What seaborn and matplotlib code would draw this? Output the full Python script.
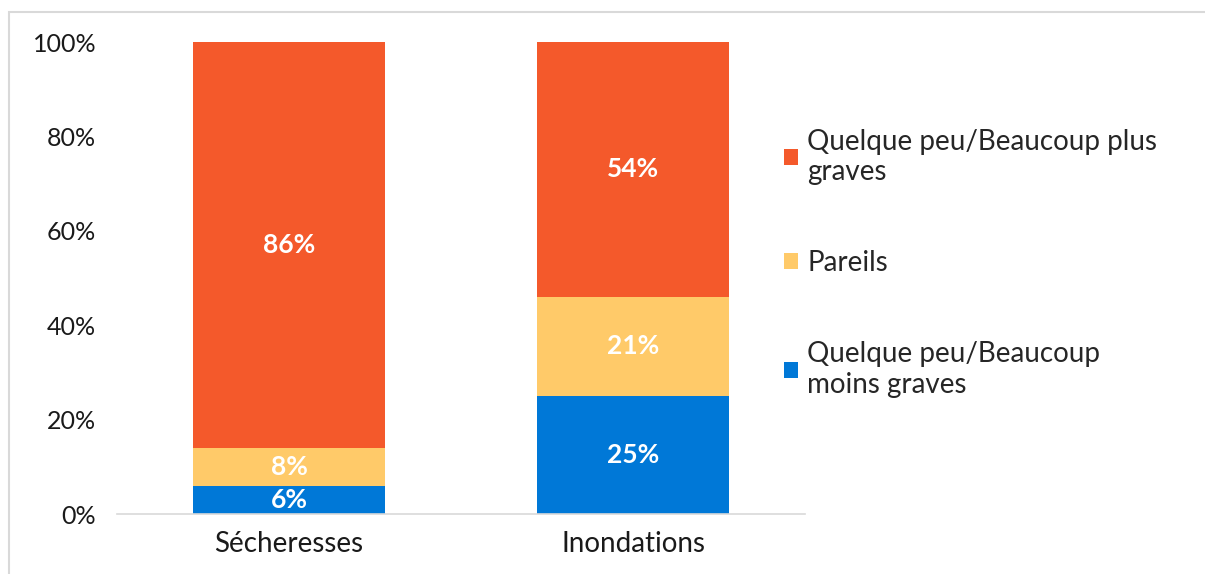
import matplotlib
matplotlib.use("Agg")
import matplotlib.pyplot as plt
import matplotlib.patches as mpatches
from matplotlib.ticker import PercentFormatter
import seaborn as sns
import numpy as np

# Data
categories = ["Sécheresses", "Inondations"]
moins_graves = [6, 25]
pareils = [8, 21]
plus_graves = [86, 54]

series_labels = ["Quelque peu/Beaucoup\nmoins graves", "Pareils",
                 "Quelque peu/Beaucoup plus\ngraves"]
colors = ["#0078D7", "#FFCA69", "#F4592B"]

sns.set_theme(style="white")
plt.rcParams["font.family"] = ["Lato", "DejaVu Sans"]

fig = plt.figure(figsize=(12.05, 5.74), dpi=100)
ax = fig.add_axes([0.0971, 0.1045, 0.571, 0.8223])

bottom = np.zeros(len(categories))
for vals, col, lab in zip([moins_graves, pareils, plus_graves], colors, series_labels):
    vals = np.array(vals, dtype=float)
    sns.barplot(x=categories, y=vals, bottom=bottom, color=col, width=0.56,
                saturation=1, ax=ax, label=lab, linewidth=0)
    cont = ax.containers[-1]
    ax.bar_label(cont, labels=[f"{v:.0f}%" for v in vals], label_type="center",
                 color="white", fontsize=19, fontweight="bold")
    bottom += vals

ax.set_ylim(0, 100)
ax.set_xlim(-0.5, 1.5)
ax.set_yticks(range(0, 101, 20))
ax.yaxis.set_major_formatter(PercentFormatter(decimals=0))
ax.tick_params(axis="y", labelsize=18, length=0, colors="#1a1a1a", pad=15)
ax.tick_params(axis="x", labelsize=20, length=0, colors="#1a1a1a", pad=12)
for s in ["top", "right", "left"]:
    ax.spines[s].set_visible(False)
ax.spines["bottom"].set_color("#d9d9d9")
ax.spines["bottom"].set_linewidth(1.2)
ax.set_xlabel("")
ax.set_ylabel("")

handles, labels = ax.get_legend_handles_labels()
leg = ax.legend(handles[::-1], labels[::-1], loc="upper left",
                bbox_to_anchor=(0.953, 0.84), frameon=False, fontsize=20,
                handlelength=0.5, handleheight=0.5, handletextpad=0.35,
                labelspacing=2.35, borderaxespad=0)

fig.patches.append(mpatches.Rectangle((0.0075, -0.02), 1.0, 0.999, transform=fig.transFigure,
                                      fill=False, edgecolor="#d9d9d9", linewidth=1.5))

fig.savefig("out.png", dpi=100)
